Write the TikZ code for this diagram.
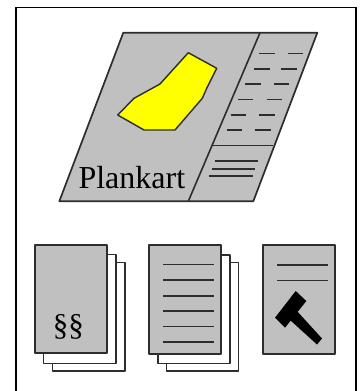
\documentclass[tikz,border=0pt]{standalone}
\usepackage{fontspec}
\setmainfont{Liberation Serif}
\definecolor{pagegray}{RGB}{192,192,192}
\definecolor{ink}{RGB}{45,45,45}
\definecolor{plotyellow}{RGB}{255,255,0}
\tikzset{
  sheet/.style={draw=ink,line width=1.7pt,fill=pagegray,line join=round},
  backsheet/.style={draw=ink,line width=1.4pt,fill=white,line join=round},
  rule/.style={draw=ink,line width=1.6pt},
  frameline/.style={draw=black,line width=1.6pt},
  lbl/.style={inner sep=0pt,text=black}
}
\begin{document}
\begin{tikzpicture}[x=1pt,y=-1pt]
\useasboundingbox (0,0) rectangle (359,391);
\fill[white] (0,0) rectangle (359,391);
% outer frame
\draw[frameline] (15.7,391) -- (15.7,7.5) -- (355.7,7.5) -- (355.7,391);
% plan sheet
\draw[sheet] (123.3,32.7) -- (317.3,32.7) -- (253.3,201.3) -- (59.3,201.3) -- cycle;
\draw[rule] (260,32.7) -- (188.3,201.3);
\draw[rule] (212.7,145.3) -- (272.7,145.3);
% yellow area
\draw[draw=ink,line width=1.4pt,fill=plotyellow,line join=round]
  (188.3,52.7) -- (216.7,68.3) -- (206.7,88.3) -- (202.3,98.3) -- (175,130) -- (144,130)
  -- (117.7,115) -- (134,98.3) -- (160,84) -- cycle;
% dashes in legend
\foreach \yy/\a/\b/\c/\d in {
  53.3/259.3/275.3/288.3/303.3,
  68.7/254/270/280.7/296.7,
  84/245/260.7/274/289.3,
  99.3/238/253.3/266.7/282,
  114.7/230.7/246/259.3/275,
  130/226.7/242/255.3/270.7}{
  \draw[rule] (\a,\yy) -- (\b,\yy);
  \draw[rule] (\c,\yy) -- (\d,\yy);
}
% text lines in legend
\draw[rule] (215,160.7) -- (258.3,160.7);
\draw[rule] (211.7,168.7) -- (255,168.7);
\draw[rule] (209.3,176) -- (252.7,176);
\node[lbl,font=\fontsize{32}{32}\selectfont,anchor=base west] (plankart) at (78.3,188.5) {Plankart};
% first stack
\draw[backsheet] (52.3,262.3) rectangle (125,371);
\draw[backsheet] (43.7,254.3) rectangle (116,363.3);
\draw[sheet] (34.7,245) rectangle (107,353.3);
\node[lbl,font=\fontsize{31}{31}\selectfont] (para) at (68.3,327) {§§};
% second stack
\draw[backsheet] (166.7,262.7) rectangle (238.7,371);
\draw[backsheet] (158,255) rectangle (230,363.3);
\draw[sheet] (149,245.3) rectangle (221,353.7);
\foreach \yy in {264.3,280,295.7,311,326.3,342}{
  \draw[rule] (163.3,\yy) -- (214.3,\yy);
}
% third sheet
\draw[sheet] (263.3,245.3) rectangle (335.3,353.7);
\draw[rule] (277.3,264.7) -- (328.3,264.7);
\draw[rule] (277.3,280.3) -- (328.3,280.3);
% hammer
\fill[black] (295.7,291) -- (306.3,301) -- (285,327.7) -- (275,317.7) -- cycle;
\fill[black] (296,310) -- (322,338.5) -- (317,344.5) -- (290,320) -- cycle;
\end{tikzpicture}
\end{document}
